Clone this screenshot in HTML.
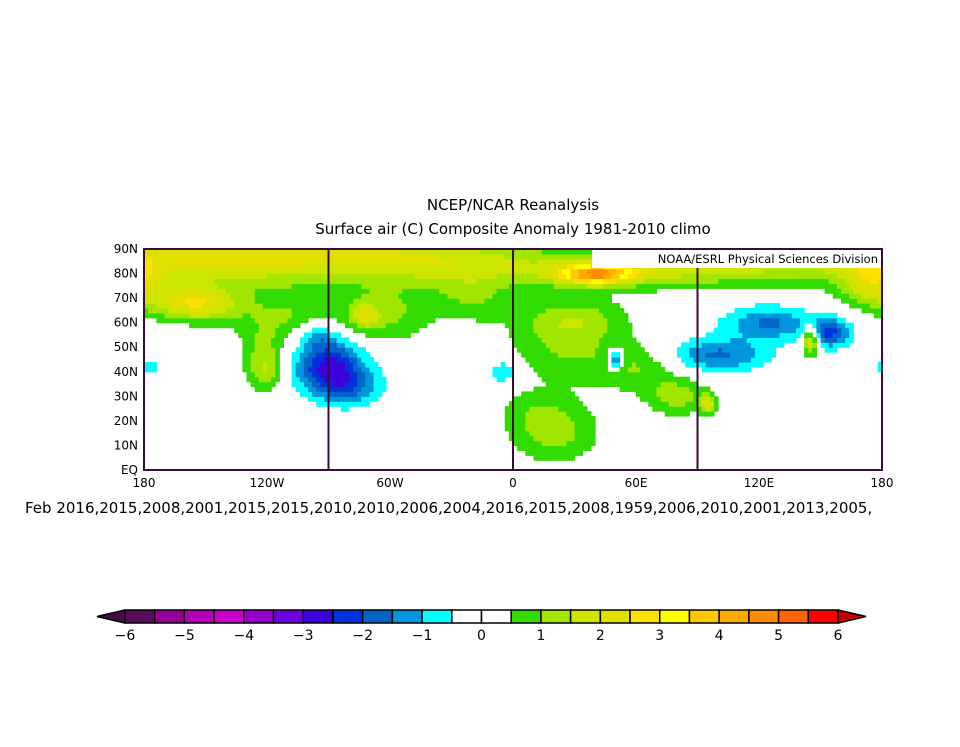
<!DOCTYPE html>
<html><head><meta charset="utf-8"><style>
body{margin:0;background:#fff;width:960px;height:742px;overflow:hidden;font-family:"Liberation Sans",sans-serif;}
svg text{font-family:"DejaVu Sans","Liberation Sans",sans-serif;fill:#000;}
</style></head><body>
<svg id="s" width="960" height="742">
<text x="513" y="210" font-size="15" text-anchor="middle">NCEP/NCAR Reanalysis</text>
<text x="513" y="234" font-size="15" text-anchor="middle">Surface air (C) Composite Anomaly 1981-2010 climo</text>
<g id="field"></g>
<g id="grid"></g>
<rect x="592" y="250" width="289" height="18" fill="#fff"/>
<text x="878" y="263" font-size="11.5" text-anchor="end">NOAA/ESRL Physical Sciences Division</text>
<rect x="144" y="249" width="738" height="221" fill="none" stroke="#3a0a3a" stroke-width="2"/>
<g id="axes"></g>
<text x="25" y="513" font-size="15">Feb 2016,2015,2008,2001,2015,2015,2010,2010,2006,2004,2016,2015,2008,1959,2006,2010,2001,2013,2005,</text>
<g id="cbar"></g>
</svg>
<script>
const levels=[-6,-5.5,-5,-4.5,-4,-3.5,-3,-2.5,-2,-1.5,-1,-0.5,0,0.5,1,1.5,2,2.5,3,3.5,4,4.5,5,5.5,6];
const colors=["#5a0a5a","#960096","#b400b4","#cc00cc","#9600c8","#6e00dc","#3c00dc","#0032dc","#0064c8","#0096dc","#00ffff","#ffffff","#ffffff","#32dc00","#a0e600","#cce600","#e0e000","#ffe000","#ffff00","#ffc800","#ffaa00","#ff8c00","#ff6400","#ff0000"];
const cbLabels=[-6,-5,-4,-3,-2,-1,0,1,2,3,4,5,6];
const lonTicks=[-180,-120,-60,0,60,120,180];
const lonTickLabels=["180","120W","60W","0","60E","120E","180"];
const latTicks=[0,10,20,30,40,50,60,70,80,90];
const latTickLabels=["EQ","10N","20N","30N","40N","50N","60N","70N","80N","90N"];
// anomaly centers: lon, lat, amplitude, lon-scale, lat-scale
const cLon=[-150,-90,-30,60,130,175,40,-155,-110,-62,-20,-122,-90,-80,-178,25,20,60,80,95,50,100,125,155,145,-5,-120,30,10,-72,-95];
const cLat=[86,88,85,82,88,76,80,68,62,64,70,45,43,34,42,50,15,42,30,27,45,47,60,56,53,40,40,62,25,63,55];
const cAmp=[1.5,1.4,1.3,1.5,1.4,1.6,3.4,2.4,1.0,1.1,0.9,1.0,-2.6,-1.3,-1.1,1.0,1.2,0.9,1.2,1.8,-2.4,-1.6,-1.6,-2.0,2.4,-1.1,0.7,1.0,0.5,1.4,-1.0];
const cSx=[60,60,50,60,60,15,18,20,28,22,20,10,17,16,4,28,22,20,15,4,4,24,22,10,4,8,8,25,20,6,10];
const cSy=[12,10,10,8,10,10,4,7,12,12,10,12,11,8,3,15,12,10,8,4,4,7,7,6,6,5,8,8,8,5,6];
const NS="http://www.w3.org/2000/svg";
const X0=144,X1=882,Y0=249,Y1=470;
const xs=lon=>X0+(lon+180)/360*(X1-X0);
const ys=lat=>Y1-lat/90*(Y1-Y0);
function val(lon,lat){let v=0;for(let i=0;i<cLon.length;i++){let d=lon-cLon[i];if(d>180)d-=360;if(d<-180)d+=360;v+=cAmp[i]*Math.exp(-((d/cSx[i])**2+((lat-cLat[i])/cSy[i])**2));}return v;}
function col(v){for(let i=0;i<colors.length;i++){if(v<levels[i+1])return colors[i];}return colors[colors.length-1];}
const f=document.getElementById('field');
const st=2;
for(let lon=-180;lon<180;lon+=st){for(let lat=0;lat<90;lat+=st){
 const c=col(val(lon+st/2,lat+st/2)); if(c==="#ffffff")continue;
 const r=document.createElementNS(NS,'rect');
 
 
 r.setAttribute('x',xs(lon));r.setAttribute('y',ys(lat+st));
 r.setAttribute('width',xs(lon+st)-xs(lon)+0.6);r.setAttribute('height',ys(lat)-ys(lat+st)+0.6);
 r.setAttribute('fill',c);f.appendChild(r);}}
const g=document.getElementById('grid');
[-90,0,90].forEach(l=>{const ln=document.createElementNS(NS,'line');
 
 
 ln.setAttribute('x1',xs(l));ln.setAttribute('x2',xs(l));ln.setAttribute('y1',Y0);ln.setAttribute('y2',Y1);
 ln.setAttribute('stroke','#3a0a3a');ln.setAttribute('stroke-width','2');g.appendChild(ln);});
const a=document.getElementById('axes');
lonTicks.forEach((l,i)=>{const t=document.createElementNS(NS,'text');
 
 
 t.setAttribute('x',xs(l));t.setAttribute('y',487);t.setAttribute('font-size','12');t.setAttribute('text-anchor','middle');
 t.textContent=lonTickLabels[i];a.appendChild(t);});
latTicks.forEach((l,i)=>{const t=document.createElementNS(NS,'text');
 
 
 t.setAttribute('x',138);t.setAttribute('y',ys(l)+4);t.setAttribute('font-size','12');t.setAttribute('text-anchor','end');
 t.textContent=latTickLabels[i];a.appendChild(t);});
const cb=document.getElementById('cbar');
const B0=125,B1=838,BY=610,BH=13,cw=(B1-B0)/colors.length;
colors.forEach((c,i)=>{const r=document.createElementNS(NS,'rect');
 
 
 r.setAttribute('x',B0+i*cw);r.setAttribute('y',BY);r.setAttribute('width',cw);r.setAttribute('height',BH);
 r.setAttribute('fill',c);r.setAttribute('stroke','#000');r.setAttribute('stroke-width','1.5');cb.appendChild(r);});
[[B0,B0-28,"#4a0a4a","colorbar-left-arrow"],[B1,B1+28,"#c80000","colorbar-right-arrow"]].forEach(p=>{
 const pg=document.createElementNS(NS,'polygon');
 
 
 pg.setAttribute('points',`${p[0]},${BY} ${p[1]},${BY+BH/2} ${p[0]},${BY+BH}`);
 pg.setAttribute('fill',p[2]);pg.setAttribute('stroke','#000');pg.setAttribute('stroke-width','1.5');cb.appendChild(pg);});
cbLabels.forEach(v=>{const t=document.createElementNS(NS,'text');
 
 
 t.setAttribute('x',B0+(v+6)/12*(B1-B0));t.setAttribute('y',640);t.setAttribute('font-size','14');t.setAttribute('text-anchor','middle');
 t.textContent=v<0?'\u2212'+(-v):String(v);cb.appendChild(t);});
</script>
</body></html>
